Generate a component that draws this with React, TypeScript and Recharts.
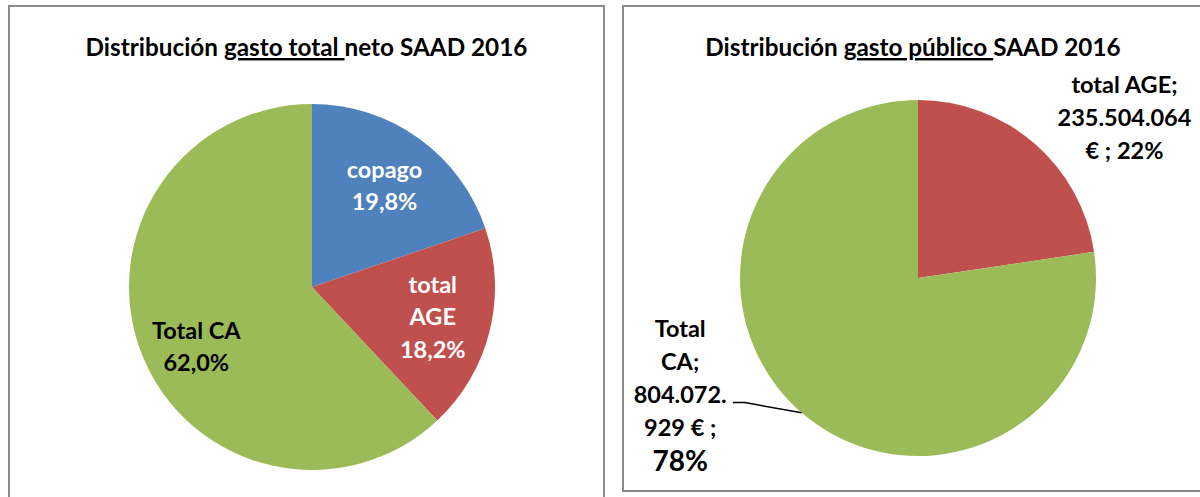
import React from 'react';
import { PieChart, Pie, Cell } from 'recharts';

// ---------- data ----------
const leftTitleParts = ['Distribución ', 'gasto total ', 'neto SAAD 2016'];
const leftCategories = ['copago', 'total AGE', 'Total CA'];
const leftValues = [19.8, 18.2, 62.0];
const leftLabelLines = [
  ['copago', '19,8%'],
  ['total', 'AGE', '18,2%'],
  ['Total CA', '62,0%'],
];

const rightTitleParts = ['Distribución ', 'gasto público ', 'SAAD 2016'];
const rightCategories = ['total AGE', 'Total CA'];
const rightValues = [235504064, 804072929];
const rightLabelLines = [
  ['total AGE;', '235.504.064', '€ ; 22%'],
  ['Total', 'CA;', '804.072.', '929 € ;', '78%'],
];

const leftColors = ['#4F81BD', '#C0504D', '#9BBB59'];
const rightColors = ['#C0504D', '#9BBB59'];

const leftData = leftCategories.map((name, i) => ({ name, value: leftValues[i] }));
const rightData = rightCategories.map((name, i) => ({ name, value: rightValues[i] }));

const FONT = 'Lato, "Open Sans", sans-serif';
const RAD = Math.PI / 180;
const NO_MARGIN = { top: 0, right: 0, bottom: 0, left: 0 };

function LeftLabel(props: any) {
  const { cx, cy, midAngle, outerRadius, index } = props;
  const r = outerRadius * 0.68;
  const x = cx + r * Math.cos(-midAngle * RAD);
  const yc = cy + r * Math.sin(-midAngle * RAD) + (index === 2 ? 14 : 0);
  const lines = leftLabelLines[index];
  const lh = 32.5;
  const fill = index === 2 ? '#000000' : '#FFFFFF';
  return (
    <text textAnchor="middle" fill={fill} fontFamily={FONT} fontWeight="bold" fontSize={23.5}>
      {lines.map((l, i) => (
        <tspan key={i} x={x} y={yc + (i - (lines.length - 1) / 2) * lh + 8}>
          {l}
        </tspan>
      ))}
    </text>
  );
}

function RightLabel(props: any) {
  const { cx, cy, midAngle, outerRadius, index } = props;
  const R = outerRadius;
  const lines = rightLabelLines[index];
  const lh = 33;
  if (index === 0) {
    const x = cx + 1.16 * R;
    const yc = cy - 0.9 * R;
    return (
      <text textAnchor="middle" fill="#000" fontFamily={FONT} fontWeight="bold" fontSize={23.5}>
        {lines.map((l, i) => (
          <tspan key={i} x={x} y={yc + (i - (lines.length - 1) / 2) * lh + 8}>
            {l}
          </tspan>
        ))}
      </text>
    );
  }
  const x = cx - 1.336 * R;
  const yc = cy + 0.66 * R;
  const ex = cx + R * Math.cos(-midAngle * RAD);
  const ey = cy + R * Math.sin(-midAngle * RAD);
  const elx = cx - 0.973 * R;
  const ely = cy + 0.7 * R;
  const endx = cx - 1.04 * R;
  return (
    <g>
      <polyline points={`${ex},${ey} ${elx},${ely} ${endx},${ely}`} fill="none" stroke="#000" strokeWidth={1.5} />
      <text textAnchor="middle" fill="#000" fontFamily={FONT} fontWeight="bold" fontSize={23.5}>
        {lines.map((l, i) => (
          <tspan
            key={i}
            x={x}
            y={yc + (i - (lines.length - 1) / 2) * lh + 8 + (i === lines.length - 1 ? 2 : 0)}
            fontSize={i === lines.length - 1 ? 28 : 23.5}
          >
            {l}
          </tspan>
        ))}
      </text>
    </g>
  );
}

function Title({ parts, width }: { parts: string[]; width: number }) {
  return (
    <svg width={width} height={70} style={{ position: 'absolute', left: 0, top: 0, overflow: 'visible' }}>
      <text x={width / 2} y={51} textAnchor="middle" fontFamily={FONT} fontWeight="bold" fontSize={24.3} fill="#000">
        <tspan>{parts[0]}</tspan>
        <tspan style={{ textDecoration: 'underline', textDecorationSkipInk: 'none' } as any}>{parts[1]}</tspan>
        <tspan>{parts[2]}</tspan>
      </text>
    </svg>
  );
}

export default function App() {
  return (
    <div
      style={{
        position: 'fixed',
        left: 0,
        top: 0,
        width: 1200,
        height: 497,
        overflow: 'hidden',
        background: '#FFFFFF',
      }}
    >
      {/* left panel */}
      <div
        style={{
          position: 'absolute',
          left: 8,
          top: 5,
          width: 597,
          height: 520,
          boxSizing: 'border-box',
          border: '2px solid #8A8A8A',
        }}
      >
        <div style={{ position: 'absolute', left: -2, top: -2, width: 597, height: 492 }}>
          <PieChart width={597} height={492} margin={NO_MARGIN}>
            <Pie
              data={leftData}
              dataKey="value"
              nameKey="name"
              cx={304}
              cy={282}
              outerRadius={183}
              startAngle={90}
              endAngle={-270}
              stroke="none"
              isAnimationActive={false}
              labelLine={false}
              label={LeftLabel}
            >
              {leftData.map((d, i) => (
                <Cell key={d.name} fill={leftColors[i]} />
              ))}
            </Pie>
          </PieChart>
          <Title parts={leftTitleParts} width={597} />
        </div>
      </div>

      {/* right panel */}
      <div
        style={{
          position: 'absolute',
          left: 622,
          top: 5,
          width: 582,
          height: 487,
          boxSizing: 'border-box',
          border: '2px solid #8A8A8A',
        }}
      >
        <div style={{ position: 'absolute', left: -2, top: -2, width: 582, height: 487 }}>
          <PieChart width={582} height={487} margin={NO_MARGIN}>
            <Pie
              data={rightData}
              dataKey="value"
              nameKey="name"
              cx={296}
              cy={273}
              outerRadius={178}
              startAngle={90}
              endAngle={-270}
              stroke="none"
              isAnimationActive={false}
              labelLine={false}
              label={RightLabel}
            >
              {rightData.map((d, i) => (
                <Cell key={d.name} fill={rightColors[i]} />
              ))}
            </Pie>
          </PieChart>
          <Title parts={rightTitleParts} width={582} />
        </div>
      </div>
    </div>
  );
}
